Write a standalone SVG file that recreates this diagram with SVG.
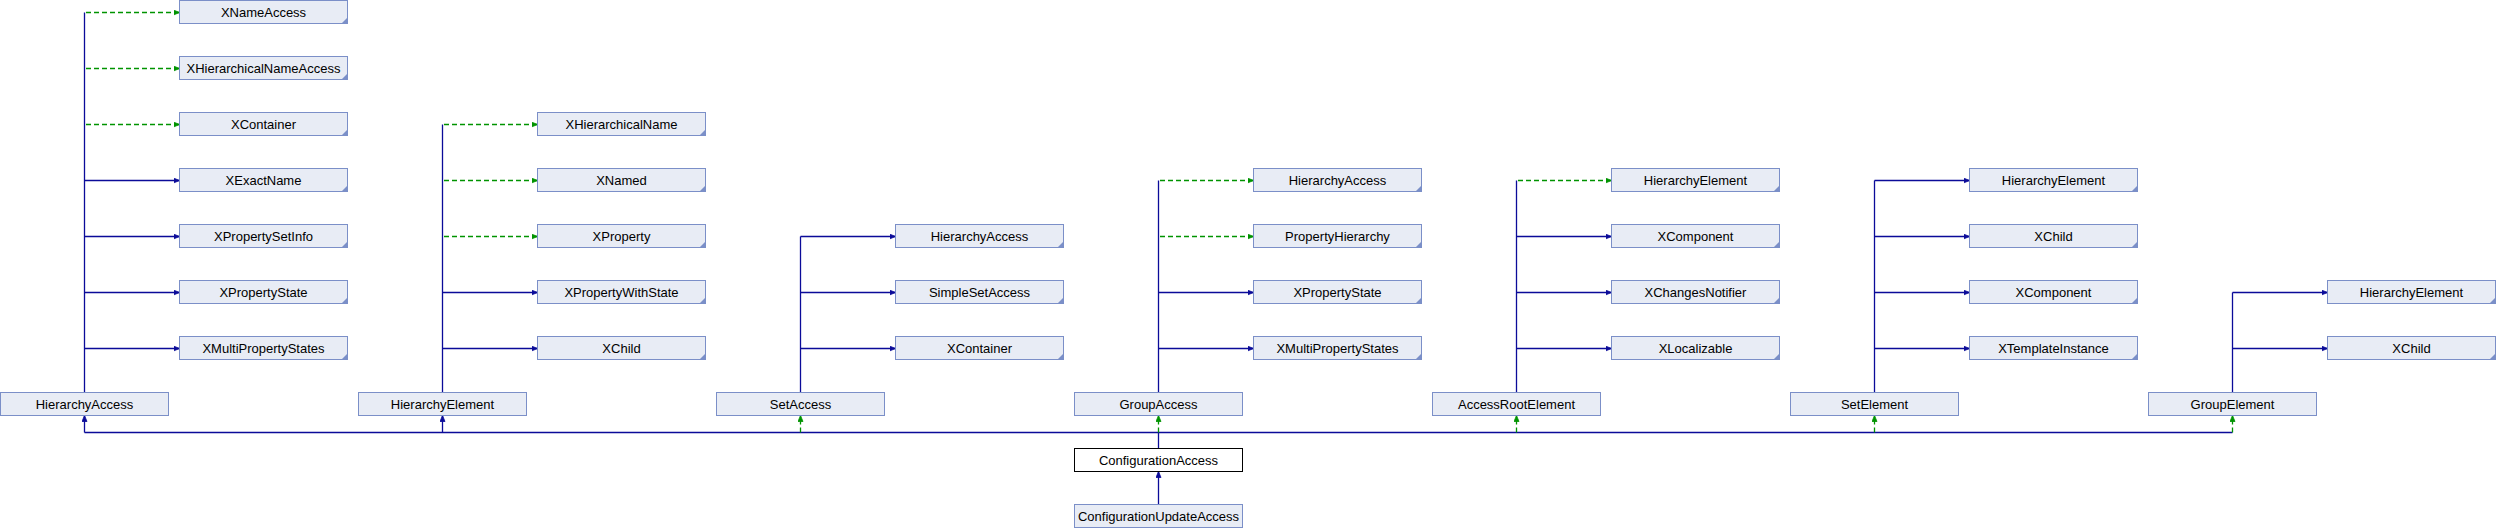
<svg xmlns="http://www.w3.org/2000/svg" width="2496" height="528" viewBox="0 0 2496 528">
<defs>
<style>
.n rect{fill:#e8ecf5;stroke:#7b8fc8;stroke-width:1}
.n polygon{fill:#7b8fc8}
.cur rect{fill:#ffffff;stroke:#000000;stroke-width:1}
text{font-family:"Liberation Sans",Arial,sans-serif;font-size:13px;fill:#000;text-anchor:middle}
.b{stroke:#0b0b99;stroke-width:1.3;fill:none}
.g{stroke:#009300;stroke-width:1.3;fill:none;stroke-dasharray:5,3}
.bl{stroke:#0b0b99;stroke-width:1.3;fill:none}
</style>
<marker id="ab" markerUnits="userSpaceOnUse" markerWidth="8" markerHeight="8" refX="6" refY="3" orient="auto"><path d="M0,0.5 L6,3 L0,5.5 z" fill="#0b0b99" stroke="#0b0b99" stroke-width="0.8"/></marker>
<marker id="ag" markerUnits="userSpaceOnUse" markerWidth="8" markerHeight="8" refX="6" refY="3" orient="auto"><path d="M0,0.5 L6,3 L0,5.5 z" fill="#009300" stroke="#009300" stroke-width="0.8"/></marker>
</defs>
<rect width="2496" height="528" fill="#ffffff"/>

<g id="connectors">
<!-- column 0: HierarchyAccess -->
<path class="bl" d="M84.5,392.5 V12.5"/>
<path class="g" d="M86,12.5 H179.5" marker-end="url(#ag)"/>
<path class="g" d="M86,68.5 H179.5" marker-end="url(#ag)"/>
<path class="g" d="M86,124.5 H179.5" marker-end="url(#ag)"/>
<path class="b" d="M84.5,180.5 H179.5" marker-end="url(#ab)"/>
<path class="b" d="M84.5,236.5 H179.5" marker-end="url(#ab)"/>
<path class="b" d="M84.5,292.5 H179.5" marker-end="url(#ab)"/>
<path class="b" d="M84.5,348.5 H179.5" marker-end="url(#ab)"/>
<!-- column 1: HierarchyElement -->
<path class="bl" d="M442.5,392.5 V124.5"/>
<path class="g" d="M444,124.5 H537.5" marker-end="url(#ag)"/>
<path class="g" d="M444,180.5 H537.5" marker-end="url(#ag)"/>
<path class="g" d="M444,236.5 H537.5" marker-end="url(#ag)"/>
<path class="b" d="M442.5,292.5 H537.5" marker-end="url(#ab)"/>
<path class="b" d="M442.5,348.5 H537.5" marker-end="url(#ab)"/>
<!-- column 2: SetAccess -->
<path class="bl" d="M800.5,392.5 V236.5"/>
<path class="b" d="M800.5,236.5 H895.5" marker-end="url(#ab)"/>
<path class="b" d="M800.5,292.5 H895.5" marker-end="url(#ab)"/>
<path class="b" d="M800.5,348.5 H895.5" marker-end="url(#ab)"/>
<!-- column 3: GroupAccess -->
<path class="bl" d="M1158.5,392.5 V180.5"/>
<path class="g" d="M1160,180.5 H1253.5" marker-end="url(#ag)"/>
<path class="g" d="M1160,236.5 H1253.5" marker-end="url(#ag)"/>
<path class="b" d="M1158.5,292.5 H1253.5" marker-end="url(#ab)"/>
<path class="b" d="M1158.5,348.5 H1253.5" marker-end="url(#ab)"/>
<!-- column 4: AccessRootElement -->
<path class="bl" d="M1516.5,392.5 V180.5"/>
<path class="g" d="M1518,180.5 H1611.5" marker-end="url(#ag)"/>
<path class="b" d="M1516.5,236.5 H1611.5" marker-end="url(#ab)"/>
<path class="b" d="M1516.5,292.5 H1611.5" marker-end="url(#ab)"/>
<path class="b" d="M1516.5,348.5 H1611.5" marker-end="url(#ab)"/>
<!-- column 5: SetElement -->
<path class="bl" d="M1874.5,392.5 V180.5"/>
<path class="b" d="M1874.5,180.5 H1969.5" marker-end="url(#ab)"/>
<path class="b" d="M1874.5,236.5 H1969.5" marker-end="url(#ab)"/>
<path class="b" d="M1874.5,292.5 H1969.5" marker-end="url(#ab)"/>
<path class="b" d="M1874.5,348.5 H1969.5" marker-end="url(#ab)"/>
<!-- column 6: GroupElement -->
<path class="bl" d="M2232.5,392.5 V292.5"/>
<path class="b" d="M2232.5,292.5 H2327.5" marker-end="url(#ab)"/>
<path class="b" d="M2232.5,348.5 H2327.5" marker-end="url(#ab)"/>
<!-- ConfigurationAccess base links -->
<path class="bl" d="M84.5,432.5 H2232.5"/>
<path class="bl" d="M1158.5,448.5 V432.5"/>
<path class="b" d="M84.5,432.5 V415.5" marker-end="url(#ab)"/>
<path class="b" d="M442.5,432.5 V415.5" marker-end="url(#ab)"/>
<path class="g" d="M800.5,432.5 V415.5" marker-end="url(#ag)"/>
<path class="g" d="M1158.5,432.5 V415.5" marker-end="url(#ag)"/>
<path class="g" d="M1516.5,432.5 V415.5" marker-end="url(#ag)"/>
<path class="g" d="M1874.5,432.5 V415.5" marker-end="url(#ag)"/>
<path class="g" d="M2232.5,432.5 V415.5" marker-end="url(#ag)"/>
<path class="b" d="M1158.5,504.5 V471.5" marker-end="url(#ab)"/>
</g>

<!-- column 0 top nodes -->
<g id="c0_XNameAccess" class="n"><rect x="179.5" y="0.5" width="168" height="23"/><polygon points="347.5,17.5 347.5,23.5 341.5,23.5"/><text x="263.5" y="16.5">XNameAccess</text></g>
<g id="c0_XHierarchicalNameAccess" class="n"><rect x="179.5" y="56.5" width="168" height="23"/><polygon points="347.5,73.5 347.5,79.5 341.5,79.5"/><text x="263.5" y="72.5">XHierarchicalNameAccess</text></g>
<g id="c0_XContainer" class="n"><rect x="179.5" y="112.5" width="168" height="23"/><polygon points="347.5,129.5 347.5,135.5 341.5,135.5"/><text x="263.5" y="128.5">XContainer</text></g>
<g id="c0_XExactName" class="n"><rect x="179.5" y="168.5" width="168" height="23"/><polygon points="347.5,185.5 347.5,191.5 341.5,191.5"/><text x="263.5" y="184.5">XExactName</text></g>
<g id="c0_XPropertySetInfo" class="n"><rect x="179.5" y="224.5" width="168" height="23"/><polygon points="347.5,241.5 347.5,247.5 341.5,247.5"/><text x="263.5" y="240.5">XPropertySetInfo</text></g>
<g id="c0_XPropertyState" class="n"><rect x="179.5" y="280.5" width="168" height="23"/><polygon points="347.5,297.5 347.5,303.5 341.5,303.5"/><text x="263.5" y="296.5">XPropertyState</text></g>
<g id="c0_XMultiPropertyStates" class="n"><rect x="179.5" y="336.5" width="168" height="23"/><polygon points="347.5,353.5 347.5,359.5 341.5,359.5"/><text x="263.5" y="352.5">XMultiPropertyStates</text></g>
<g id="HierarchyAccess" class="n"><rect x="0.5" y="392.5" width="168" height="23"/><text x="84.5" y="408.5">HierarchyAccess</text></g>

<!-- column 1 -->
<g id="c1_XHierarchicalName" class="n"><rect x="537.5" y="112.5" width="168" height="23"/><polygon points="705.5,129.5 705.5,135.5 699.5,135.5"/><text x="621.5" y="128.5">XHierarchicalName</text></g>
<g id="c1_XNamed" class="n"><rect x="537.5" y="168.5" width="168" height="23"/><polygon points="705.5,185.5 705.5,191.5 699.5,191.5"/><text x="621.5" y="184.5">XNamed</text></g>
<g id="c1_XProperty" class="n"><rect x="537.5" y="224.5" width="168" height="23"/><polygon points="705.5,241.5 705.5,247.5 699.5,247.5"/><text x="621.5" y="240.5">XProperty</text></g>
<g id="c1_XPropertyWithState" class="n"><rect x="537.5" y="280.5" width="168" height="23"/><polygon points="705.5,297.5 705.5,303.5 699.5,303.5"/><text x="621.5" y="296.5">XPropertyWithState</text></g>
<g id="c1_XChild" class="n"><rect x="537.5" y="336.5" width="168" height="23"/><polygon points="705.5,353.5 705.5,359.5 699.5,359.5"/><text x="621.5" y="352.5">XChild</text></g>
<g id="HierarchyElement" class="n"><rect x="358.5" y="392.5" width="168" height="23"/><text x="442.5" y="408.5">HierarchyElement</text></g>

<!-- column 2 -->
<g id="c2_HierarchyAccess" class="n"><rect x="895.5" y="224.5" width="168" height="23"/><polygon points="1063.5,241.5 1063.5,247.5 1057.5,247.5"/><text x="979.5" y="240.5">HierarchyAccess</text></g>
<g id="c2_SimpleSetAccess" class="n"><rect x="895.5" y="280.5" width="168" height="23"/><polygon points="1063.5,297.5 1063.5,303.5 1057.5,303.5"/><text x="979.5" y="296.5">SimpleSetAccess</text></g>
<g id="c2_XContainer" class="n"><rect x="895.5" y="336.5" width="168" height="23"/><polygon points="1063.5,353.5 1063.5,359.5 1057.5,359.5"/><text x="979.5" y="352.5">XContainer</text></g>
<g id="SetAccess" class="n"><rect x="716.5" y="392.5" width="168" height="23"/><text x="800.5" y="408.5">SetAccess</text></g>

<!-- column 3 -->
<g id="c3_HierarchyAccess" class="n"><rect x="1253.5" y="168.5" width="168" height="23"/><polygon points="1421.5,185.5 1421.5,191.5 1415.5,191.5"/><text x="1337.5" y="184.5">HierarchyAccess</text></g>
<g id="c3_PropertyHierarchy" class="n"><rect x="1253.5" y="224.5" width="168" height="23"/><polygon points="1421.5,241.5 1421.5,247.5 1415.5,247.5"/><text x="1337.5" y="240.5">PropertyHierarchy</text></g>
<g id="c3_XPropertyState" class="n"><rect x="1253.5" y="280.5" width="168" height="23"/><polygon points="1421.5,297.5 1421.5,303.5 1415.5,303.5"/><text x="1337.5" y="296.5">XPropertyState</text></g>
<g id="c3_XMultiPropertyStates" class="n"><rect x="1253.5" y="336.5" width="168" height="23"/><polygon points="1421.5,353.5 1421.5,359.5 1415.5,359.5"/><text x="1337.5" y="352.5">XMultiPropertyStates</text></g>
<g id="GroupAccess" class="n"><rect x="1074.5" y="392.5" width="168" height="23"/><text x="1158.5" y="408.5">GroupAccess</text></g>

<!-- column 4 -->
<g id="c4_HierarchyElement" class="n"><rect x="1611.5" y="168.5" width="168" height="23"/><polygon points="1779.5,185.5 1779.5,191.5 1773.5,191.5"/><text x="1695.5" y="184.5">HierarchyElement</text></g>
<g id="c4_XComponent" class="n"><rect x="1611.5" y="224.5" width="168" height="23"/><polygon points="1779.5,241.5 1779.5,247.5 1773.5,247.5"/><text x="1695.5" y="240.5">XComponent</text></g>
<g id="c4_XChangesNotifier" class="n"><rect x="1611.5" y="280.5" width="168" height="23"/><polygon points="1779.5,297.5 1779.5,303.5 1773.5,303.5"/><text x="1695.5" y="296.5">XChangesNotifier</text></g>
<g id="c4_XLocalizable" class="n"><rect x="1611.5" y="336.5" width="168" height="23"/><polygon points="1779.5,353.5 1779.5,359.5 1773.5,359.5"/><text x="1695.5" y="352.5">XLocalizable</text></g>
<g id="AccessRootElement" class="n"><rect x="1432.5" y="392.5" width="168" height="23"/><text x="1516.5" y="408.5">AccessRootElement</text></g>

<!-- column 5 -->
<g id="c5_HierarchyElement" class="n"><rect x="1969.5" y="168.5" width="168" height="23"/><polygon points="2137.5,185.5 2137.5,191.5 2131.5,191.5"/><text x="2053.5" y="184.5">HierarchyElement</text></g>
<g id="c5_XChild" class="n"><rect x="1969.5" y="224.5" width="168" height="23"/><polygon points="2137.5,241.5 2137.5,247.5 2131.5,247.5"/><text x="2053.5" y="240.5">XChild</text></g>
<g id="c5_XComponent" class="n"><rect x="1969.5" y="280.5" width="168" height="23"/><polygon points="2137.5,297.5 2137.5,303.5 2131.5,303.5"/><text x="2053.5" y="296.5">XComponent</text></g>
<g id="c5_XTemplateInstance" class="n"><rect x="1969.5" y="336.5" width="168" height="23"/><polygon points="2137.5,353.5 2137.5,359.5 2131.5,359.5"/><text x="2053.5" y="352.5">XTemplateInstance</text></g>
<g id="SetElement" class="n"><rect x="1790.5" y="392.5" width="168" height="23"/><text x="1874.5" y="408.5">SetElement</text></g>

<!-- column 6 -->
<g id="c6_HierarchyElement" class="n"><rect x="2327.5" y="280.5" width="168" height="23"/><polygon points="2495.5,297.5 2495.5,303.5 2489.5,303.5"/><text x="2411.5" y="296.5">HierarchyElement</text></g>
<g id="c6_XChild" class="n"><rect x="2327.5" y="336.5" width="168" height="23"/><polygon points="2495.5,353.5 2495.5,359.5 2489.5,359.5"/><text x="2411.5" y="352.5">XChild</text></g>
<g id="GroupElement" class="n"><rect x="2148.5" y="392.5" width="168" height="23"/><text x="2232.5" y="408.5">GroupElement</text></g>

<!-- bottom -->
<g id="ConfigurationAccess" class="cur"><rect x="1074.5" y="448.5" width="168" height="23"/><text x="1158.5" y="464.5">ConfigurationAccess</text></g>
<g id="ConfigurationUpdateAccess" class="n"><rect x="1074.5" y="504.5" width="168" height="23"/><text x="1158.5" y="520.5">ConfigurationUpdateAccess</text></g>
</svg>
